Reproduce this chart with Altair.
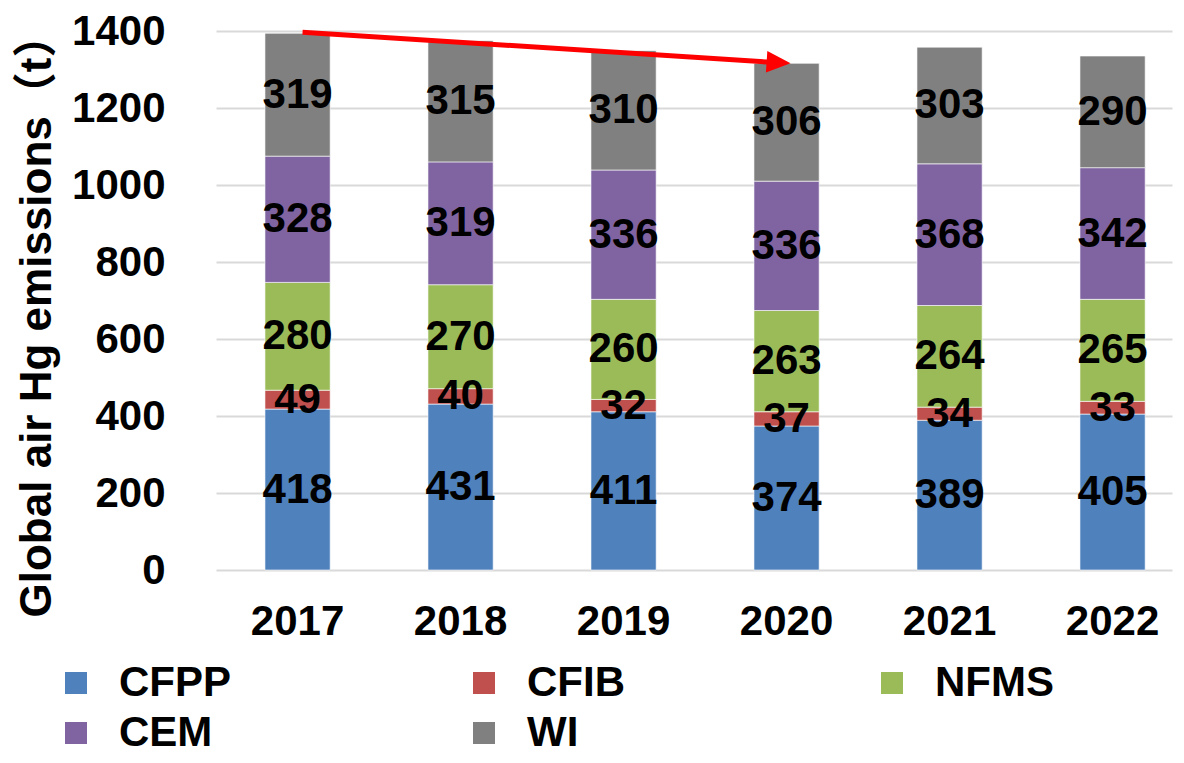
import altair as alt
import pandas as pd

years = ["2017", "2018", "2019", "2020", "2021", "2022"]
sectors = ["CFPP", "CFIB", "NFMS", "CEM", "WI"]
colors = ["#4F81BD", "#C0504D", "#9BBB59", "#8064A2", "#808080"]
cfpp = [418, 431, 411, 374, 389, 405]
cfib = [49, 40, 32, 37, 34, 33]
nfms = [280, 270, 260, 263, 264, 265]
cem = [328, 319, 336, 336, 368, 342]
wi = [319, 315, 310, 306, 303, 290]
y_ticks = [0, 200, 400, 600, 800, 1000, 1200, 1400]
arrow_from = ["2017", 1397]
arrow_to = ["2020", 1316]

rows = []
for i, (s, vals) in enumerate(zip(sectors, [cfpp, cfib, nfms, cem, wi])):
    for yr, v in zip(years, vals):
        rows.append({"year": yr, "sector": s, "order": i, "value": v})
df = pd.DataFrame(rows)

arrow_df = pd.DataFrame([{
    "year": arrow_from[0], "year2": arrow_to[0],
    "ys": arrow_from[1], "ye": arrow_to[1] + 2, "yt": arrow_to[1],
}])

FONT = "Liberation Sans, Arial, Noto Sans CJK SC"
FS = 42

x_scale = alt.Scale(domain=years, paddingInner=0.6, paddingOuter=0.2325, align=0.646)
x_axis = alt.Axis(title=None, labelAngle=0, labelFontSize=FS, labelFontWeight="bold",
                  labelFont=FONT, labelColor="black", labelPadding=31, ticks=False,
                  domain=False, grid=False)
y_scale = alt.Scale(domain=[0, 1400], nice=False, zero=True)
y_axis = alt.Axis(values=y_ticks, format="d", title="Global air Hg emissions（t）",
                  labelFontSize=FS, labelFontWeight="bold", labelFont=FONT,
                  labelColor="black", labelPadding=51, ticks=False, domain=False,
                  grid=True, gridColor="#D9D9D9", gridWidth=2, titleFontSize=44,
                  titleFontWeight="bold", titleFont=FONT, titleColor="black",
                  titleX=-179, titleY=284, titleAngle=270, titleBaseline="middle",
                  titleAlign="center")

X = alt.X("year:N", scale=x_scale, axis=x_axis)

base = alt.Chart(df).transform_stack(
    stack="value", groupby=["year"], as_=["y0", "y1"],
    sort=[alt.SortField("order", order="ascending")]
).transform_calculate(mid="(datum.y0 + datum.y1) / 2")

bars = base.mark_bar(stroke="white", strokeWidth=0.6).encode(
    x=X,
    y=alt.Y("y0:Q", scale=y_scale, axis=y_axis),
    y2="y1:Q",
    color=alt.Color("sector:N", scale=alt.Scale(domain=sectors, range=colors),
                    legend=alt.Legend(title=None, orient="none", legendX=-161, legendY=631,
                                      direction="horizontal", columns=3, symbolType="square",
                                      symbolSize=484, symbolStrokeWidth=0, symbolOpacity=1,
                                      labelFontSize=FS, labelFont=FONT, labelFontWeight="bold",
                                      labelColor="black", labelOffset=22, columnPadding=225,
                                      rowPadding=8, gridAlign="all", labelLimit=400)),
    order=alt.Order("order:Q"),
)

labels = base.mark_text(fontSize=FS, fontWeight="bold", font=FONT, color="black",
                        align="center", baseline="middle").encode(
    x=X,
    y=alt.Y("mid:Q", scale=y_scale, axis=y_axis),
    text="value:Q",
)

arrow_line = alt.Chart(arrow_df).mark_rule(color="#FF0000", strokeWidth=5, xOffset=5,
                                           x2Offset=-10).encode(
    x=X,
    x2="year2:N",
    y=alt.Y("ys:Q", scale=y_scale, axis=y_axis),
    y2="ye:Q",
)

arrow_head = alt.Chart(arrow_df).mark_point(
    shape="M0,0L-2,-0.9L-2,0.9Z", size=576, filled=True, fill="#FF0000", opacity=1,
    strokeWidth=0, angle=3.75, xOffset=4
).encode(
    x=alt.X("year2:N", scale=x_scale, axis=x_axis),
    y=alt.Y("yt:Q", scale=y_scale, axis=y_axis),
)

chart = alt.layer(bars, labels, arrow_line, arrow_head).properties(
    width=956, height=539,
    autosize=alt.AutoSizeParams(type="none"),
    padding={"left": 208, "top": 23, "right": 4, "bottom": 185},
).configure_view(stroke=None)

chart.save("out.html", embed_options={"renderer": "svg", "actions": False})
